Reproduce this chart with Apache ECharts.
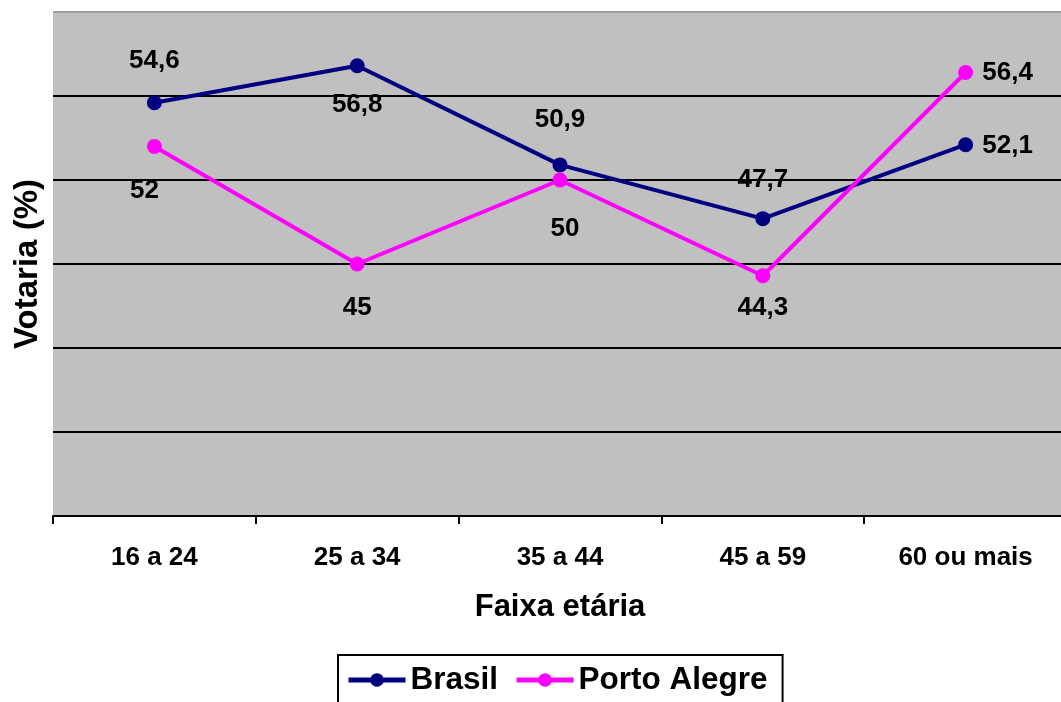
<!DOCTYPE html>
<html><head><meta charset="utf-8">
<script src="https://cdn.jsdelivr.net/npm/echarts@6/dist/echarts.min.js"></script>
<style>html,body{margin:0;padding:0;background:#fff;overflow:hidden;width:1061px;height:702px}#c{width:1067px;height:702px}</style>
</head><body><div id="c"></div>
<script>
// ---- data ----
const categories = ['16 a 24', '25 a 34', '35 a 44', '45 a 59', '60 ou mais'];
const brasil = [54.6, 56.8, 50.9, 47.7, 52.1];
const portoAlegre = [52, 45, 50, 44.3, 56.4];
const yMin = 30, yMax = 60, yInterval = 5;

// ---- label placement (style, not data) ----
const brasilLabelOffsets = [[0, -42], [0, 39], [0, -45], [0, -39], [42, 1]];
const paLabelOffsets = [[-10, 44], [0, 44], [5, 49], [0, 32], [42, 0]];

const FONT = "'Liberation Sans', Arial, sans-serif";
const fmt = v => String(v).replace('.', ',');

function items(values, offsets) {
  return values.map((v, i) => ({
    value: v,
    label: { offset: offsets[i] }
  }));
}

function series(name, color, values, offsets) {
  return {
    name: name,
    type: 'line',
    data: items(values, offsets),
    symbol: 'circle',
    symbolSize: 15,
    lineStyle: { color: color, width: 4 },
    itemStyle: { color: color },
    label: {
      show: true,
      position: 'inside',
      formatter: p => fmt(p.value),
      color: '#000',
      fontSize: 26,
      fontWeight: 'bold',
      fontFamily: FONT
    },
    emphasis: { disabled: true }
  };
}

const chart = echarts.init(document.getElementById('c'), null, { renderer: 'canvas' });
chart.setOption({
  animation: false,
  backgroundColor: '#fff',
  grid: {
    left: 53, right: 0, top: 12, bottom: 186,
    show: true, backgroundColor: '#C0C0C0', borderWidth: 0
  },
  xAxis: {
    type: 'category',
    data: categories,
    boundaryGap: true,
    axisLine: { lineStyle: { color: '#000', width: 2 } },
    axisTick: { show: true, length: 8, lineStyle: { color: '#000', width: 2 } },
    axisLabel: { color: '#000', fontSize: 26, fontWeight: 'bold', fontFamily: FONT, margin: 29 },
    name: 'Faixa etária',
    nameLocation: 'middle',
    nameGap: 76,
    nameTextStyle: { color: '#000', fontSize: 31, fontWeight: 'bold', fontFamily: FONT }
  },
  yAxis: {
    type: 'value',
    min: yMin, max: yMax, interval: yInterval,
    axisLine: { show: false },
    axisTick: { show: false },
    axisLabel: { show: false },
    splitLine: {
      show: true,
      lineStyle: { color: ['#000', '#000', '#000', '#000', '#000', '#000', '#A0A0A0'], width: 2 }
    },
    name: 'Votaria (%)',
    nameLocation: 'middle',
    nameGap: 9,
    nameRotate: 90,
    nameTextStyle: { color: '#000', fontSize: 33, fontWeight: 'bold', fontFamily: FONT }
  },
  legend: {
    left: 338, top: 655,
    orient: 'horizontal',
    itemWidth: 57, itemHeight: 17, itemGap: 16,
    padding: [9, 15, 30, 8],
    borderColor: '#000', borderWidth: 2,
    lineStyle: { width: 5 },
    textStyle: { color: '#000', fontSize: 31.5, fontWeight: 'bold', fontFamily: FONT },
    selectedMode: false
  },
  series: [
    series('Brasil', '#000080', brasil, brasilLabelOffsets),
    series('Porto Alegre', '#FF00FF', portoAlegre, paLabelOffsets)
  ]
});
</script>
</body></html>
